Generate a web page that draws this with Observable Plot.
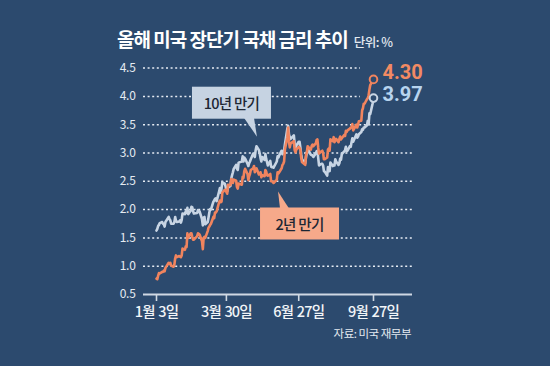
<!DOCTYPE html>
<html><head><meta charset="utf-8">
<script src="https://cdn.jsdelivr.net/npm/d3@7"></script>
<script src="https://cdn.jsdelivr.net/npm/@observablehq/plot@0.6"></script>
<style>
html,body{margin:0;padding:0;background:#2c4a6e;}
#wrap{position:relative;width:550px;height:366px;overflow:hidden;font-family:"Noto Sans CJK KR","Noto Sans",sans-serif;}
#title{position:absolute;left:117px;top:29px;line-height:19px;color:#ffffff;font-size:19px;font-weight:700;letter-spacing:-1px;white-space:nowrap;}
#title span{font-size:12.5px;font-weight:500;letter-spacing:-0.5px;color:#e3e9f0;margin-left:6px;}
#source{position:absolute;right:139px;top:327px;line-height:12px;color:#e3e9f0;font-size:11.5px;letter-spacing:-0.5px;white-space:nowrap;}
#chart{position:absolute;left:0;top:0;}
g[aria-label^="x-axis"] text{font-size:14.5px;fill:#f2f5f8;letter-spacing:-0.8px;word-spacing:1px;font-weight:500;}
g[aria-label^="y-axis"] text{font-size:12px;fill:#e5ebf2;letter-spacing:-0.3px;}
g[aria-label^="x-axis"] line, g[aria-label^="x-axis"] path{stroke-width:1.6px;}
</style>
</head><body>
<div id="wrap">
  <div id="chart"></div>
  <div id="title">올해 미국 장단기 국채 금리 추이<span>단위: %</span></div>
  <div id="source">자료: 미국 재무부</div>
</div>
<script>
// ---- data ----
const dates = [
"01-03","01-04","01-05","01-06","01-07","01-10","01-11","01-12","01-13","01-14","01-18","01-19","01-20","01-21","01-24","01-25","01-26","01-27","01-28","01-31",
"02-01","02-02","02-03","02-04","02-07","02-08","02-09","02-10","02-11","02-14","02-15","02-16","02-17","02-18","02-22","02-23","02-24","02-25","02-28",
"03-01","03-02","03-03","03-04","03-07","03-08","03-09","03-10","03-11","03-14","03-15","03-16","03-17","03-18","03-21","03-22","03-23","03-24","03-25","03-28","03-29","03-30","03-31",
"04-01","04-04","04-05","04-06","04-07","04-08","04-11","04-12","04-13","04-14","04-18","04-19","04-20","04-21","04-22","04-25","04-26","04-27","04-28","04-29",
"05-02","05-03","05-04","05-05","05-06","05-09","05-10","05-11","05-12","05-13","05-16","05-17","05-18","05-19","05-20","05-23","05-24","05-25","05-26","05-27","05-31",
"06-01","06-02","06-03","06-06","06-07","06-08","06-09","06-10","06-13","06-14","06-15","06-16","06-17","06-21","06-22","06-23","06-24","06-27","06-28","06-29","06-30",
"07-01","07-05","07-06","07-07","07-08","07-11","07-12","07-13","07-14","07-15","07-18","07-19","07-20","07-21","07-22","07-25","07-26","07-27","07-28","07-29",
"08-01","08-02","08-03","08-04","08-05","08-08","08-09","08-10","08-11","08-12","08-15","08-16","08-17","08-18","08-19","08-22","08-23","08-24","08-25","08-26","08-29","08-30","08-31",
"09-01","09-02","09-06","09-07","09-08","09-09","09-12","09-13","09-14","09-15","09-16","09-19","09-20","09-21","09-22","09-23","09-26","09-27"
];
const yield10 = [
1.63,1.66,1.71,1.73,1.76,1.78,1.75,1.74,1.70,1.78,1.87,1.83,1.81,1.75,1.75,1.78,1.87,1.80,1.78,1.79,
1.81,1.77,1.82,1.93,1.92,1.97,1.94,2.03,1.92,1.98,2.05,2.04,1.97,1.93,1.94,1.99,1.96,1.97,1.83,
1.72,1.86,1.87,1.74,1.78,1.86,1.95,2.01,2.00,2.14,2.16,2.19,2.20,2.15,2.32,2.38,2.30,2.37,2.48,2.46,2.41,2.35,2.32,
2.39,2.42,2.55,2.61,2.66,2.72,2.79,2.72,2.70,2.83,2.85,2.94,2.85,2.92,2.90,2.81,2.77,2.82,2.85,2.89,
2.99,2.97,2.93,3.05,3.12,3.05,2.99,2.91,2.85,2.93,2.88,2.98,2.89,2.84,2.78,2.86,2.76,2.75,2.75,2.74,2.85,
2.94,2.92,2.96,3.04,2.98,3.03,3.04,3.15,3.43,3.48,3.33,3.28,3.25,3.31,3.16,3.09,3.13,3.20,3.20,3.10,2.98,
2.89,2.82,2.93,3.01,3.08,2.99,2.97,2.96,2.96,2.93,2.99,3.03,3.04,2.91,2.78,2.81,2.81,2.78,2.68,2.67,
2.60,2.75,2.73,2.68,2.83,2.77,2.79,2.78,2.89,2.85,2.79,2.82,2.90,2.88,2.98,3.03,3.05,3.11,3.03,3.04,3.12,3.11,3.19,
3.26,3.20,3.33,3.27,3.29,3.33,3.37,3.42,3.41,3.45,3.45,3.49,3.57,3.51,3.70,3.69,3.88,3.97
];
const yield2 = [
0.78,0.77,0.83,0.88,0.87,0.90,0.90,0.92,0.91,0.97,1.06,1.04,1.06,1.01,0.99,1.03,1.14,1.19,1.16,1.18,
1.17,1.16,1.19,1.31,1.29,1.35,1.34,1.58,1.50,1.58,1.58,1.52,1.47,1.47,1.53,1.58,1.57,1.56,1.44,
1.30,1.50,1.52,1.50,1.62,1.68,1.70,1.73,1.75,1.87,1.85,1.95,1.95,1.97,2.13,2.16,2.13,2.14,2.30,2.35,2.35,2.31,2.28,
2.44,2.43,2.54,2.50,2.47,2.53,2.51,2.40,2.37,2.46,2.44,2.58,2.56,2.68,2.72,2.63,2.52,2.59,2.63,2.70,
2.73,2.77,2.66,2.72,2.73,2.62,2.63,2.66,2.57,2.61,2.59,2.70,2.67,2.61,2.60,2.63,2.50,2.50,2.49,2.47,2.53,
2.66,2.64,2.66,2.73,2.79,2.81,2.85,3.06,3.28,3.45,3.20,3.10,3.17,3.21,3.05,3.01,3.06,3.11,3.09,3.06,2.92,
2.84,2.79,2.97,3.01,3.12,3.07,3.06,3.13,3.15,3.12,3.17,3.23,3.24,3.09,2.99,3.03,3.04,3.00,2.89,2.89,
2.92,3.06,3.08,3.04,3.24,3.21,3.28,3.19,3.22,3.25,3.19,3.25,3.29,3.24,3.26,3.32,3.30,3.39,3.37,3.40,3.43,3.45,3.45,
3.51,3.40,3.50,3.45,3.50,3.56,3.57,3.75,3.79,3.87,3.87,3.95,3.97,4.02,4.12,4.20,4.28,4.30
];
const yTicks = [0.5, 1.0, 1.5, 2.0, 2.5, 3.0, 3.5, 4.0, 4.5];
const gridValues = [1.0, 1.5, 2.0, 2.5, 3.0, 3.5, 4.0, 4.5];
const xTickDates = ["2022-01-03", "2022-03-30", "2022-06-27", "2022-09-27"];
const xTickLabels = ["1월 3일", "3월 30일", "6월 27일", "9월 27일"];
const seriesNames = ["10년 만기", "2년 만기"];
const endLabels = ["3.97", "4.30"];
const callouts = [
  {label: "10년 만기", series: 0, anchor: "05-06"},
  {label: "2년 만기", series: 1, anchor: "05-27"}
];

// ---- styles / layout ----
const BG = "#2c4a6e";
const COLORS = ["#c8d5e4", "#f0845e"];
const BOX = ["#c6d3e2", "#f6a98a"];
const LABEL_COLORS = ["#b7d4ef", "#f28a63"];
const geom = [
  {tip: [1, -9], box: [-65, -50, 79, 32], wedge: [-13, -3], wedgeEdge: "bottom"},
  {tip: [5, 9], box: [-18, 16, 79, 32], wedge: [2, 11], wedgeEdge: "top"}
];

const parse = d3.utcParse("%Y-%m-%d");
const D = dates.map(md => parse("2022-" + md));
const series = [yield10, yield2].map((vals, s) =>
  D.map((d, i) => ({date: d, v: vals[i], s})));
const xStart = parse("2021-12-18"), xEnd = parse("2022-11-14"), labelClear = parse("2022-09-11");
const xTicks = xTickDates.map(parse);
const tickLabel = d => xTickLabels[xTicks.findIndex(t => +t === +d)];
const ends = series.map(rows => rows[rows.length - 1]);

const calloutMark = (index, scales) => {
  const g = d3.create("svg:g").attr("aria-label", "callouts");
  callouts.forEach(c => {
    const s = c.series, gm = geom[s];
    const row = series[s].find(r => +r.date === +parse("2022-" + c.anchor));
    const tx = scales.x(row.date) + gm.tip[0], ty = scales.y(row.v) + gm.tip[1];
    const bx = tx + gm.box[0], by = ty + gm.box[1], bw = gm.box[2], bh = gm.box[3];
    const ey = gm.wedgeEdge === "bottom" ? by + bh - 1 : by + 1;
    g.append("polygon")
      .attr("points", `${tx},${ty} ${tx + gm.wedge[0]},${ey} ${tx + gm.wedge[1]},${ey}`)
      .attr("fill", BOX[s]);
    g.append("rect").attr("x", bx).attr("y", by).attr("width", bw).attr("height", bh).attr("fill", BOX[s]);
    g.append("text").attr("x", bx + bw / 2).attr("y", by + bh / 2)
      .attr("text-anchor", "middle").attr("dominant-baseline", "central")
      .attr("fill", "#1c2633").attr("font-size", 14.5).attr("font-weight", 500)
      .attr("letter-spacing", "-0.7px")
      .text(c.label);
  });
  return g.node();
};

const chart = Plot.plot({
  width: 550,
  height: 366,
  marginLeft: 143,
  marginRight: 138,
  marginTop: 67.6,
  marginBottom: 72,
  style: {background: BG, color: "#cfd8e3", fontFamily: '"Noto Sans CJK KR","Noto Sans",sans-serif'},
  x: {type: "utc", domain: [xStart, xEnd], ticks: xTicks, tickFormat: tickLabel, tickSize: 7, tickPadding: 5, label: null},
  y: {domain: [0.5, 4.5], ticks: yTicks, tickFormat: d => d.toFixed(1), tickSize: 0, tickPadding: 8, label: null},
  marks: [
    Plot.ruleY(gridValues, {y: d => d, x1: () => xStart, x2: d => d >= 4 ? labelClear : xEnd,
      stroke: "#e6ecf3", strokeWidth: 1.5, strokeDasharray: "2,2.6"}),
    Plot.ruleY([0.5], {y: d => d, x1: () => xStart, x2: () => xEnd, stroke: "#cfd8e3", strokeWidth: 1.8}),
    Plot.line(series[0], {x: "date", y: "v", stroke: COLORS[0], strokeWidth: 2.6, strokeLinejoin: "round"}),
    Plot.line(series[1], {x: "date", y: "v", stroke: COLORS[1], strokeWidth: 2.6, strokeLinejoin: "round"}),
    Plot.dot(ends, {x: "date", y: "v", r: 3.8, stroke: d => COLORS[d.s], fill: BG, strokeWidth: 2}),
    Plot.text([ends[1]], {x: "date", y: "v", text: () => endLabels[1], dx: 9, dy: -7, textAnchor: "start",
      fill: LABEL_COLORS[1], fontSize: 20, fontWeight: 700, fontFamily: "Roboto"}),
    Plot.text([ends[0]], {x: "date", y: "v", text: () => endLabels[0], dx: 9, dy: -3.5, textAnchor: "start",
      fill: LABEL_COLORS[0], fontSize: 20, fontWeight: 700, fontFamily: "Roboto"}),
    calloutMark
  ]
});
document.getElementById("chart").appendChild(chart);
</script>
</body></html>
